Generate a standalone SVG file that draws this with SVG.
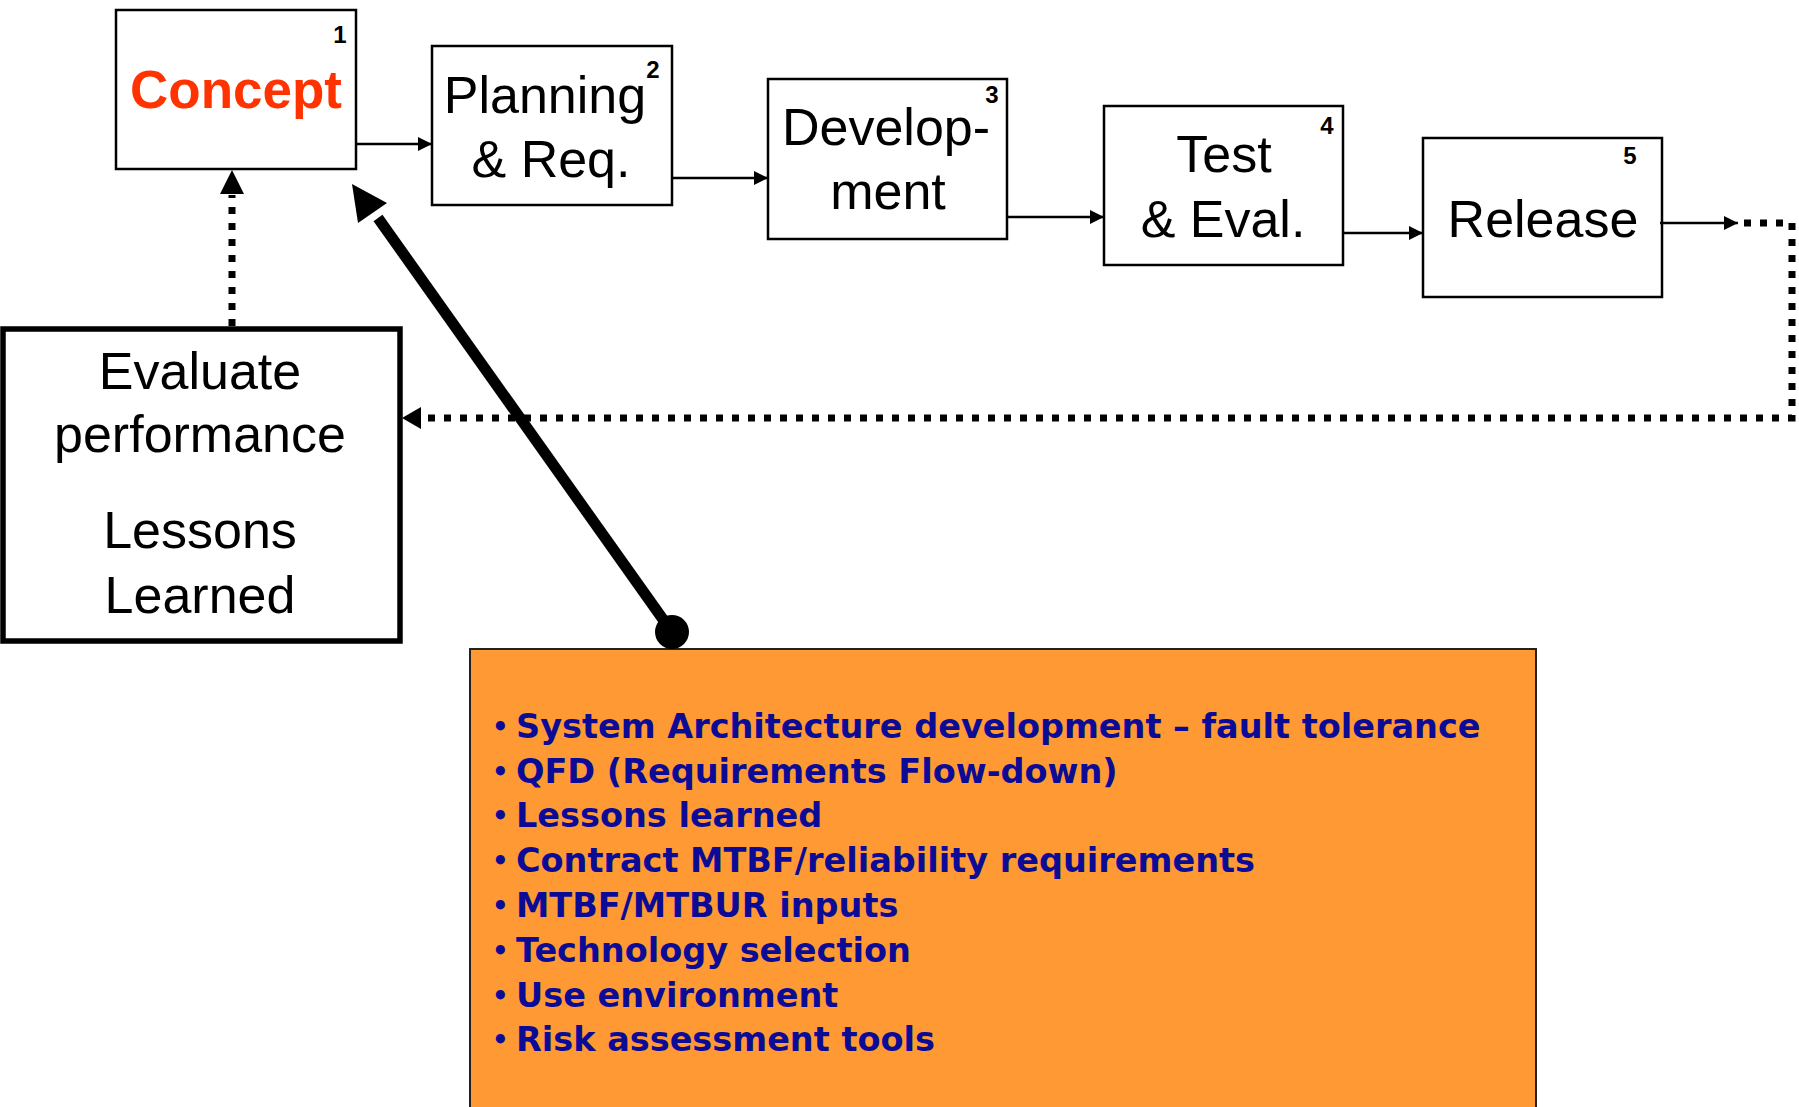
<svg xmlns="http://www.w3.org/2000/svg" width="1799" height="1107" viewBox="0 0 1799 1107">
  <style>
    .box { fill: #ffffff; stroke: #000000; stroke-width: 2.5; }
    .lbl { font-family: "Liberation Sans", Arial, sans-serif; font-size: 52px; fill: #000000; text-anchor: middle; }
    .num { font-family: "Liberation Sans", Arial, sans-serif; font-size: 24px; font-weight: bold; fill: #000000; text-anchor: middle; }
    .flow { fill: none; stroke: #000000; stroke-width: 2.5; }
    .dots { fill: none; stroke: #000000; stroke-width: 7; stroke-dasharray: 7 9; }
    .item { font-family: "DejaVu Sans", Verdana, sans-serif; font-size: 33.5px; font-weight: bold; fill: #0b0b96; }
    .bul { font-family: "DejaVu Sans", Verdana, sans-serif; font-size: 26px; font-weight: bold; fill: #0b0b96; }
  </style>
  <defs>
    <marker id="arrowThin" markerUnits="userSpaceOnUse" markerWidth="15" markerHeight="15" refX="14" refY="7" orient="auto">
      <path d="M0,0 L14,7 L0,14 z" fill="#000000"/>
    </marker>
  </defs>

  <rect width="1799" height="1107" fill="#ffffff"/>

  <!-- inputs panel -->
  <g id="inputs">
    <rect x="470" y="649" width="1066" height="470" fill="#FF9933" stroke="#222222" stroke-width="2"/>
    <g class="bul">
      <text x="492" y="736">•</text>
      <text x="492" y="781">•</text>
      <text x="492" y="825">•</text>
      <text x="492" y="870">•</text>
      <text x="492" y="915">•</text>
      <text x="492" y="960">•</text>
      <text x="492" y="1005">•</text>
      <text x="492" y="1049">•</text>
    </g>
    <g class="item">
      <text x="516" y="738">System Architecture development – fault tolerance</text>
      <text x="516" y="783">QFD (Requirements Flow-down)</text>
      <text x="516" y="827">Lessons learned</text>
      <text x="516" y="872">Contract MTBF/reliability requirements</text>
      <text x="516" y="917">MTBF/MTBUR inputs</text>
      <text x="516" y="962">Technology selection</text>
      <text x="516" y="1007">Use environment</text>
      <text x="516" y="1051">Risk assessment tools</text>
    </g>
  </g>

  <!-- phase boxes -->
  <g id="concept">
    <rect class="box" x="116" y="10" width="240" height="159"/>
    <text class="num" x="340" y="43">1</text>
    <text x="236" y="108" font-family="Liberation Sans, Arial, sans-serif" font-size="53" font-weight="bold" fill="#FF3300" text-anchor="middle">Concept</text>
  </g>
  <g id="planning">
    <rect class="box" x="432" y="46" width="240" height="159"/>
    <text class="num" x="653" y="78">2</text>
    <text class="lbl" x="545" y="113">Planning</text>
    <text class="lbl" x="551" y="177">&amp; Req.</text>
  </g>
  <g id="development">
    <rect class="box" x="768" y="79" width="239" height="160"/>
    <text class="num" x="992" y="103">3</text>
    <text class="lbl" x="886" y="145">Develop-</text>
    <text class="lbl" x="888" y="209">ment</text>
  </g>
  <g id="test">
    <rect class="box" x="1104" y="106" width="239" height="159"/>
    <text class="num" x="1327" y="134">4</text>
    <text class="lbl" x="1224" y="172">Test</text>
    <text class="lbl" x="1223" y="237">&amp; Eval.</text>
  </g>
  <g id="release">
    <rect class="box" x="1423" y="138" width="239" height="159"/>
    <text class="num" x="1630" y="164">5</text>
    <text class="lbl" x="1543" y="237">Release</text>
  </g>
  <g id="evaluate">
    <rect x="3" y="329" width="397" height="312" fill="#ffffff" stroke="#000000" stroke-width="5.5"/>
    <text class="lbl" x="200" y="389">Evaluate</text>
    <text class="lbl" x="200" y="452">performance</text>
    <text class="lbl" x="200" y="548">Lessons</text>
    <text class="lbl" x="200" y="613">Learned</text>
  </g>

  <!-- connectors -->
  <g id="connectors">
    <line class="flow" x1="357" y1="144" x2="432" y2="144" marker-end="url(#arrowThin)"/>
    <line class="flow" x1="673" y1="178" x2="768" y2="178" marker-end="url(#arrowThin)"/>
    <line class="flow" x1="1008" y1="217" x2="1104" y2="217" marker-end="url(#arrowThin)"/>
    <line class="flow" x1="1344" y1="233" x2="1423" y2="233" marker-end="url(#arrowThin)"/>
    <line class="flow" x1="1660" y1="223" x2="1738" y2="223" marker-end="url(#arrowThin)"/>
    <!-- feedback loop back to evaluation -->
    <path class="dots" d="M1744,223 H1792 V418 H420"/>
    <path d="M402,418 L421,407 L421,429 z" fill="#000000"/>
    <!-- evaluation feeds concept -->
    <line class="dots" x1="232" y1="326" x2="232" y2="195"/>
    <path d="M232,170 L220,194 L244,194 z" fill="#000000"/>
    <!-- inputs feed concept -->
    <line x1="672" y1="632" x2="378" y2="218" stroke="#000000" stroke-width="11"/>
    <path d="M352,184 L358,223 L387,203 z" fill="#000000"/>
    <circle cx="672" cy="632" r="17" fill="#000000"/>
  </g>
</svg>
